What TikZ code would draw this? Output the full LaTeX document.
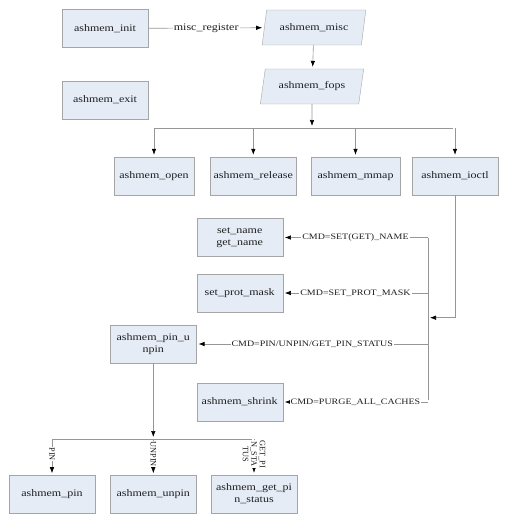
\documentclass[tikz,border=0pt]{standalone}
\usepackage{fontspec}
\setmainfont{Liberation Serif}[FakeStretch=1.2]
\newfontfamily\rotfont{Liberation Serif}
\usepackage{tikz}
\usetikzlibrary{arrows.meta,shapes.geometric}
\definecolor{boxfill}{RGB}{230,236,246}
\definecolor{boxline}{RGB}{165,165,165}
\definecolor{wire}{RGB}{150,150,150}
\definecolor{ink}{RGB}{30,30,30}

\begin{document}
\begin{tikzpicture}[x=1pt,y=-1pt,>={Latex[length=6pt,width=4.5pt,black]},
                    shorten >=2pt,text=ink,
                    font=\fontsize{10}{11.7}\selectfont]
  \tikzstyle{box}=[rectangle,draw=boxline,fill=boxfill,minimum width=86pt,
                   minimum height=38pt,align=center,inner sep=1pt]
  \tikzstyle{data}=[trapezium,trapezium left angle=72,trapezium right angle=108,
                    trapezium stretches=true,draw=boxline,fill=boxfill,
                    minimum width=104pt,minimum height=35pt,inner sep=1pt]
  \tikzstyle{link}=[draw=wire,line width=0.6pt]
  \tikzstyle{tag}=[fill=white,inner sep=1pt,font=\fontsize{8.3}{9}\selectfont]
  \tikzstyle{vtag}=[fill=white,inner sep=0.3pt,rotate=-90,align=center,pos=0.42,
                    font=\rotfont\fontsize{8.3}{8.5}\selectfont]

  \useasboundingbox (0,0) rectangle (515,524);

  % top part
  \node[box]  (init)     at (105,28.5)  {ashmem\_init};
  \node[box]  (exit)     at (105,100)   {ashmem\_exit};
  \node[data] (misc)     at (314,27.5)  {ashmem\_misc};
  \node[data] (fops)     at (312,86.5)  {ashmem\_fops};

  % file operations
  \node[box,minimum width=80pt] (open) at (154,176) {ashmem\_open};
  \node[box]  (release)  at (253.3,176) {ashmem\_release};
  \node[box,minimum width=89pt] (mmap) at (355.5,176) {ashmem\_mmap};
  \node[box]  (ioctl)    at (455,176)   {ashmem\_ioctl};

  % ioctl commands
  \node[box]  (setname)  at (239.7,237.5) {set\_name\\get\_name};
  \node[box]  (setprot)  at (239.7,293)   {set\_prot\_mask};
  \node[box]  (pinunpin) at (153.3,344)   {ashmem\_pin\_u\\npin};
  \node[box]  (shrink)   at (239.7,402)   {ashmem\_shrink};

  % pin commands
  \node[box]  (pin)      at (52,494.4)  {ashmem\_pin};
  \node[box]  (unpin)    at (153.3,494.4) {ashmem\_unpin};
  \node[box]  (getpin)   at (254,494)   {ashmem\_get\_pi\\n\_status};

  \coordinate (fork)  at (312,128);
  \coordinate (bus)   at (428,317.7);
  \coordinate (fork2) at (153.3,439);

  \draw[link,->] (init) -- node[tag,font=\fontsize{10}{11}\selectfont] {misc\_register} (misc);
  \draw[link,->] (misc) -- (fops);
  \draw[link,->] (fops) -- (fops |- fork);
  \draw[link] (open |- fork) -- (ioctl |- fork);
  \foreach \n in {open,release,mmap,ioctl}
    \draw[link,->] (\n |- fork) -- (\n);

  \draw[link,->] (ioctl) |- (bus);
  \draw[link] (setname -| bus) -- (shrink -| bus);
  \draw[link,->] (setname -| bus) -- node[tag] {CMD=SET(GET)\_NAME} (setname);
  \draw[link,->] (setprot -| bus) -- node[tag] {CMD=SET\_PROT\_MASK} (setprot);
  \draw[link,->] (pinunpin -| bus) -- node[tag] {CMD=PIN/UNPIN/GET\_PIN\_STATUS} (pinunpin);
  \draw[link,->] (shrink -| bus) -- node[tag] {CMD=PURGE\_ALL\_CACHES} (shrink);

  \draw[link,->] (pinunpin) -- (fork2);
  \draw[link] (pin |- fork2) -- (getpin |- fork2);
  \draw[link,->] (pin |- fork2) -- node[vtag] {PIN} (pin);
  \draw[link,->] (unpin |- fork2) -- node[vtag] {UNPIN} (unpin);
  \draw[link,->] (getpin |- fork2) -- node[vtag] {GET\_PI\\N\_STA\\TUS} (getpin);
\end{tikzpicture}
\end{document}
